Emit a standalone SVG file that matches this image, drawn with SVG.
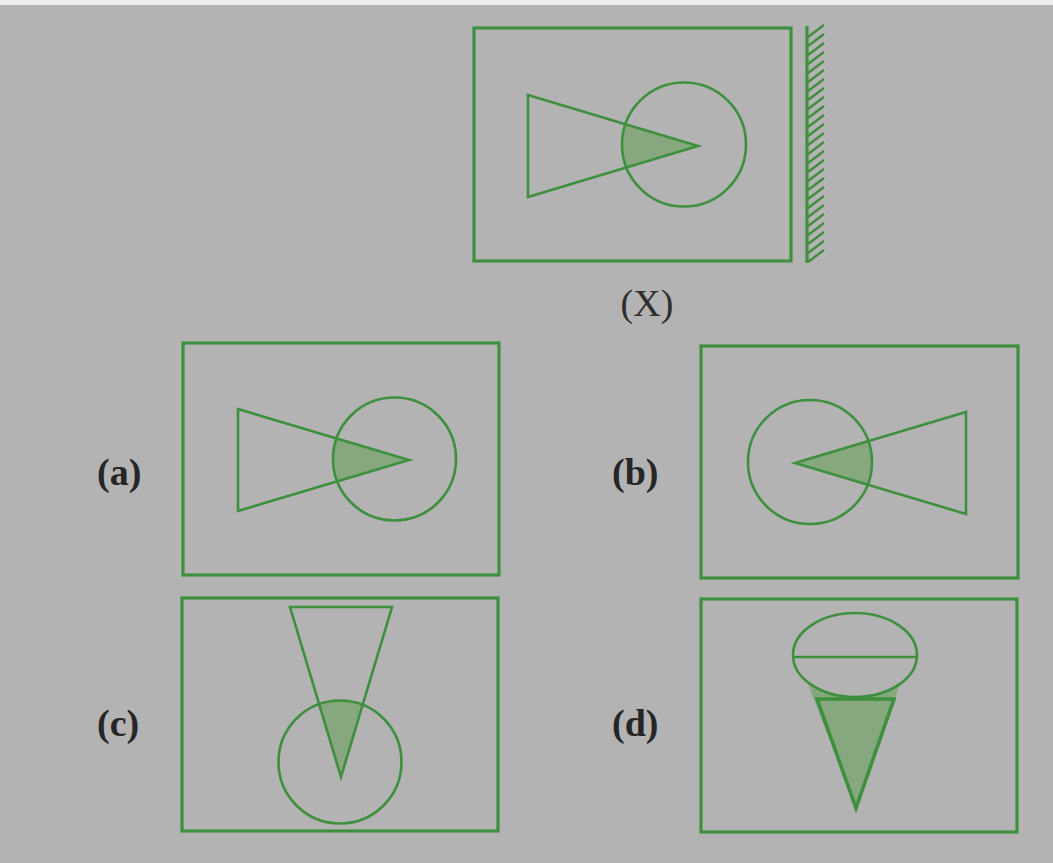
<svg xmlns="http://www.w3.org/2000/svg" width="1053" height="863" viewBox="0 0 1053 863">
<style>
.frame{fill:none;stroke:#3e8f3e;stroke-width:3.2}
.ln{fill:none;stroke:#3e8f3e;stroke-width:2.6;stroke-linejoin:miter}
.shade{fill:#87a77f;stroke:none}
.lab{font-family:"Liberation Serif","Times New Roman",serif;font-size:38px;font-weight:bold;fill:#262626}
.xlab{font-family:"Liberation Serif","Times New Roman",serif;font-size:38px;fill:#2e2e2e}
</style>
<defs>
<clipPath id="cX"><circle cx="684" cy="144.5" r="62"/></clipPath>
<clipPath id="cA"><circle cx="394.5" cy="459" r="61.5"/></clipPath>
<clipPath id="cB"><circle cx="810" cy="462" r="62"/></clipPath>
<clipPath id="cC"><circle cx="340" cy="762" r="61.5"/></clipPath>
</defs>
<rect x="0" y="0" width="1053" height="863" fill="#b3b3b3"/>
<rect x="0" y="0" width="1053" height="5" fill="#ececec"/>

<g id="figX">
<rect class="frame" x="474" y="28" width="317" height="233"/>
<polygon class="shade" points="528,95 528,197 698,146" clip-path="url(#cX)"/>
<polygon class="ln" points="528,95 528,197 698,146"/>
<circle class="ln" cx="684" cy="144.5" r="62"/>
<line x1="807" y1="26" x2="807" y2="263" stroke="#3e8f3e" stroke-width="3.2"/>
<path fill="none" stroke="#3e8f3e" stroke-width="2.4" d="M808 262l16 -12M808 253l16 -12M808 244l16 -12M808 235l16 -12M808 226l16 -12M808 217l16 -12M808 208l16 -12M808 199l16 -12M808 190l16 -12M808 181l16 -12M808 172l16 -12M808 163l16 -12M808 154l16 -12M808 145l16 -12M808 136l16 -12M808 127l16 -12M808 118l16 -12M808 109l16 -12M808 100l16 -12M808 91l16 -12M808 82l16 -12M808 73l16 -12M808 64l16 -12M808 55l16 -12M808 46l16 -12M808 37l16 -12"/>
<text class="xlab" x="647" y="316" text-anchor="middle">(X)</text>
</g>

<g id="optA">
<rect class="frame" x="183" y="343" width="316" height="232"/>
<polygon class="shade" points="238,409 238,511 409,460" clip-path="url(#cA)"/>
<polygon class="ln" points="238,409 238,511 409,460"/>
<circle class="ln" cx="394.5" cy="459" r="61.5"/>
<text class="lab" x="97" y="485">(a)</text>
</g>

<g id="optB">
<rect class="frame" x="701" y="346" width="317" height="232"/>
<polygon class="shade" points="795,463 966,412 966,514" clip-path="url(#cB)"/>
<polygon class="ln" points="795,463 966,412 966,514"/>
<circle class="ln" cx="810" cy="462" r="62"/>
<text class="lab" x="612" y="485">(b)</text>
</g>

<g id="optC">
<rect class="frame" x="182" y="598" width="316" height="233"/>
<polygon class="shade" points="290,607 392,607 341,777" clip-path="url(#cC)"/>
<polygon class="ln" points="290,607 392,607 341,777"/>
<circle class="ln" cx="340" cy="762" r="61.5"/>
<text class="lab" x="97" y="736">(c)</text>
</g>

<g id="optD">
<rect class="frame" x="701" y="599" width="316" height="233"/>
<polygon class="shade" points="808,684 900,684 856,808" stroke="#3e8f3e" stroke-width="2.2"/>
<polygon class="shade" points="817,699 894,699 856,808"/>
<polygon fill="none" stroke="#3e8f3e" stroke-width="3.6" points="817,699 894,699 856,808"/>
<ellipse cx="855" cy="655" rx="62" ry="42" fill="#b3b3b3" stroke="#3e8f3e" stroke-width="2.6"/>
<line x1="793" y1="657" x2="917" y2="657" stroke="#3e8f3e" stroke-width="2.6"/>
<text class="lab" x="612" y="736">(d)</text>
</g>
</svg>
